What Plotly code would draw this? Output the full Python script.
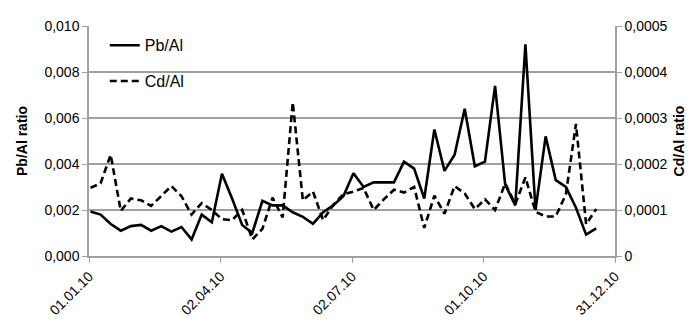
import plotly.graph_objects as go

dates = [
    "2010-01-02", "2010-01-09", "2010-01-16", "2010-01-23", "2010-01-30",
    "2010-02-06", "2010-02-13", "2010-02-20", "2010-02-27", "2010-03-06",
    "2010-03-13", "2010-03-20", "2010-03-27", "2010-04-03", "2010-04-10",
    "2010-04-17", "2010-04-24", "2010-05-01", "2010-05-08", "2010-05-15",
    "2010-05-22", "2010-05-29", "2010-06-05", "2010-06-12", "2010-06-19",
    "2010-06-26", "2010-07-03", "2010-07-10", "2010-07-17", "2010-07-24",
    "2010-07-31", "2010-08-07", "2010-08-14", "2010-08-21", "2010-08-28",
    "2010-09-04", "2010-09-11", "2010-09-18", "2010-09-25", "2010-10-02",
    "2010-10-09", "2010-10-16", "2010-10-23", "2010-10-30", "2010-11-06",
    "2010-11-13", "2010-11-20", "2010-11-27", "2010-12-04", "2010-12-11",
    "2010-12-18",
]

pb_al = [
    0.00193, 0.0018, 0.00139, 0.0011, 0.0013, 0.00135, 0.0011, 0.0013, 0.00106, 0.00126,
    0.00072, 0.0018, 0.00147, 0.00358, 0.0025, 0.00135, 0.0010, 0.0024, 0.0022, 0.0022,
    0.0019, 0.0017, 0.0014, 0.0019, 0.0022, 0.0026, 0.0036, 0.0030, 0.0032, 0.0032,
    0.0032, 0.0041, 0.0038, 0.0025, 0.0055, 0.0037, 0.0044, 0.0064, 0.0039, 0.0041,
    0.0074, 0.0031, 0.0022, 0.0092, 0.0020, 0.0052, 0.0033, 0.0030, 0.0021, 0.00093,
    0.0012,
]

cd_al = [
    0.000148, 0.000158, 0.00022, 0.000098, 0.000125, 0.000121, 0.000109, 0.00013, 0.000152, 0.00013,
    0.00009, 0.000115, 0.0001, 0.00008, 0.000078, 0.0001, 0.000036, 0.000059, 0.000127, 0.000084,
    0.000334, 0.000121, 0.00014, 0.000078, 0.000111, 0.000134, 0.00014, 0.000148, 0.0001, 0.000123,
    0.000144, 0.000138, 0.00015, 0.000061, 0.000131, 0.000092, 0.000152, 0.000136, 0.000102, 0.000123,
    0.0001, 0.000158, 0.000113, 0.000171, 0.000096, 0.000086, 0.000086, 0.000134, 0.000287, 0.000069,
    0.000102,
]

x_tick_vals = ["2010-01-01", "2010-04-02", "2010-07-02", "2010-10-01", "2010-12-31"]
x_tick_text = ["01.01.10", "02.04.10", "02.07.10", "01.10.10", "31.12.10"]
left_tick_vals = [0, 0.002, 0.004, 0.006, 0.008, 0.010]
left_tick_text = ["0,000", "0,002", "0,004", "0,006", "0,008", "0,010"]
right_tick_vals = [0, 0.0001, 0.0002, 0.0003, 0.0004, 0.0005]
right_tick_text = ["0", "0,0001", "0,0002", "0,0003", "0,0004", "0,0005"]

FONT = "Liberation Sans"
GRID = "#a0a0a0"

fig = go.Figure()
fig.add_trace(go.Scatter(x=dates, y=pb_al, name="Pb/Al", mode="lines",
                         line=dict(color="black", width=2.6), legendgroup="a"))
fig.add_trace(go.Scatter(x=dates, y=cd_al, name="Cd/Al", mode="lines", yaxis="y2",
                         line=dict(color="black", width=2.6, dash="7px,4px"), legendgroup="b"))

fig.update_layout(
    width=699, height=320,
    margin=dict(l=81, r=92, t=10, b=68),
    paper_bgcolor="white", plot_bgcolor="white",
    font=dict(family=FONT, size=14, color="black"),
    showlegend=True,
    legend=dict(x=0.03, y=0.99, xanchor="left", yanchor="top", bgcolor="rgba(0,0,0,0)",
                traceorder="grouped", tracegroupgap=12, font=dict(size=16)),
    xaxis=dict(type="date", range=["2010-01-01", "2010-12-31"],
               tickvals=x_tick_vals, ticktext=x_tick_text, tickangle=-45,
               showgrid=False, showline=True, linecolor=GRID, linewidth=1.5,
               ticks="outside", tickcolor=GRID, ticklen=5, zeroline=False),
    yaxis=dict(range=[0, 0.010], tickvals=left_tick_vals, ticktext=left_tick_text,
               showgrid=True, gridcolor=GRID, gridwidth=1.5, showline=True,
               linecolor=GRID, linewidth=1.5, ticks="outside", tickcolor=GRID, ticklen=5,
               zeroline=False,
               title=dict(text="<b>Pb/Al ratio</b>", font=dict(size=14), standoff=14)),
    yaxis2=dict(range=[0, 0.0005], tickvals=right_tick_vals, ticktext=right_tick_text,
                overlaying="y", side="right", showgrid=False, showline=True,
                linecolor=GRID, linewidth=1.5, ticks="outside", tickcolor=GRID, ticklen=5,
                zeroline=False,
                title=dict(text="<b>Cd/Al ratio</b>", font=dict(size=14), standoff=8)),
)

fig.write_html("out.html")
